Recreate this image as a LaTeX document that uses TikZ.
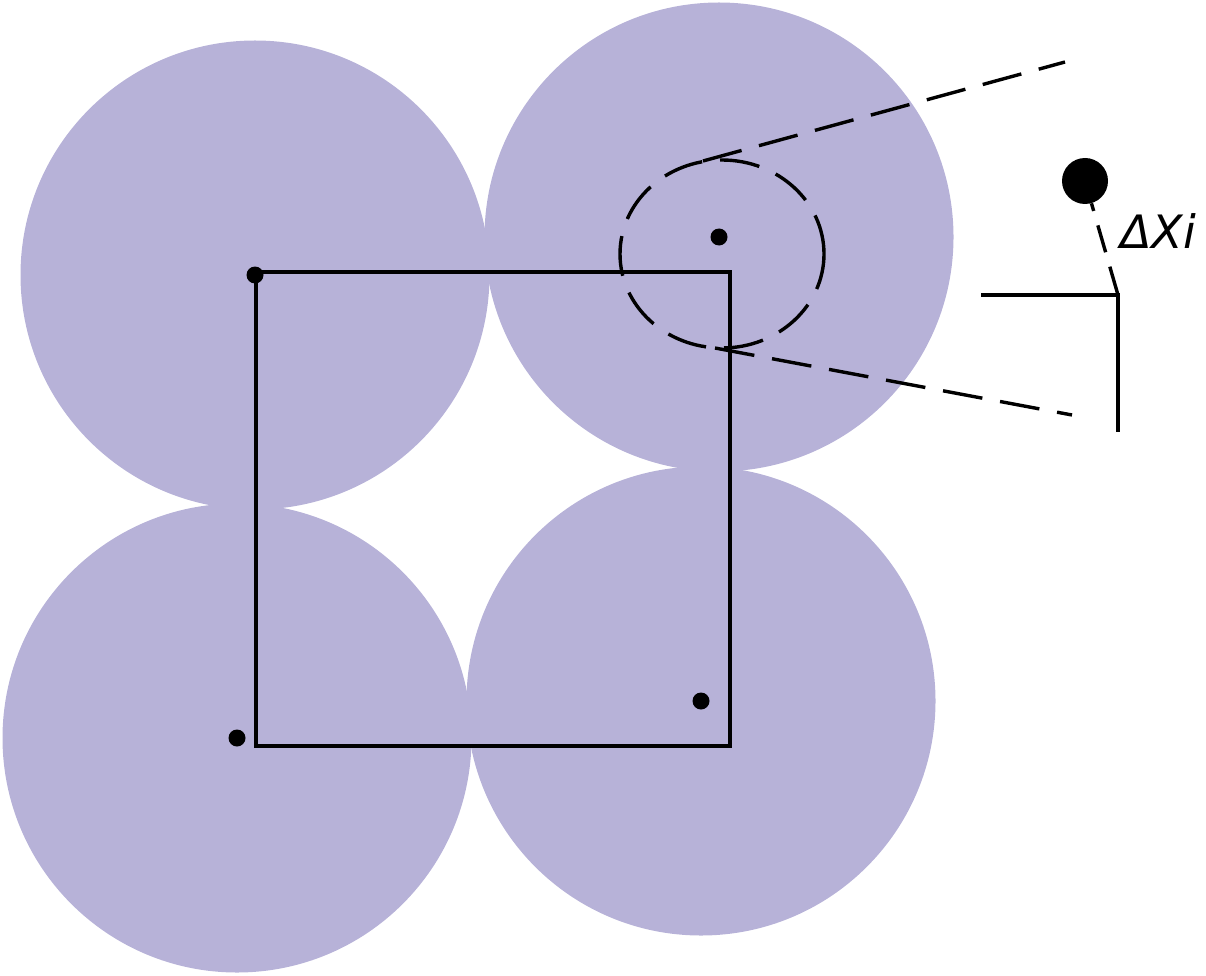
\documentclass[tikz,border=0pt]{standalone}
\usepackage{fontspec}
\setsansfont{DejaVu Sans}
\usepackage{xcolor}
\definecolor{discfill}{HTML}{B7B2D8}

\tikzset{
  disc/.style={fill=discfill},
  dot/.style={circle,fill=black,inner sep=0pt,minimum size=17pt},
  bigdot/.style={circle,fill=black,inner sep=0pt,minimum size=46pt},
  wall/.style={line width=3.4pt},
  guide/.style={line width=3.4pt,dash pattern=on 40pt off 18pt},
}

\begin{document}
\begin{tikzpicture}[x=1pt,y=-1pt]
  \useasboundingbox (0,0) rectangle (1206,976);
  % Discs and their centres
  \foreach \cx/\cy/\nm in {255/275/nw,719/237/ne,237/738/sw,701/701/se}{
    \fill[disc] (\cx,\cy) circle (234.5pt);
    \node[dot] (\nm) at (\cx,\cy) {};
  }
  % Cell
  \draw[wall] (256,272) rectangle (730,746);
  % Zone round the upper right centre
  \draw[guide] (722,254) circle [x radius=102pt, y radius=94pt];
  \coordinate (uptouch) at (703,161);
  \coordinate (upfar) at (1065,62);
  \coordinate (lowtouch) at (715,348);
  \coordinate (lowfar) at (1072,415);
  \draw[guide] (uptouch) -- (upfar);
  \draw[guide] (lowtouch) -- (lowfar);
  % Displaced particle
  \node[bigdot] (probe) at (1085,181) {};
  \coordinate (corner) at (1118,295);
  \draw[guide,dash pattern=on 28pt off 15pt,dash phase=20pt] (probe) -- (corner);
  \draw[wall] (981,295) -- (corner) -- (1118,432);
  \node[anchor=base west,inner sep=0pt,font=\sffamily\itshape\fontsize{46}{46}\selectfont]
    (shift) at (1120,248) {ΔXi};
\end{tikzpicture}
\end{document}
